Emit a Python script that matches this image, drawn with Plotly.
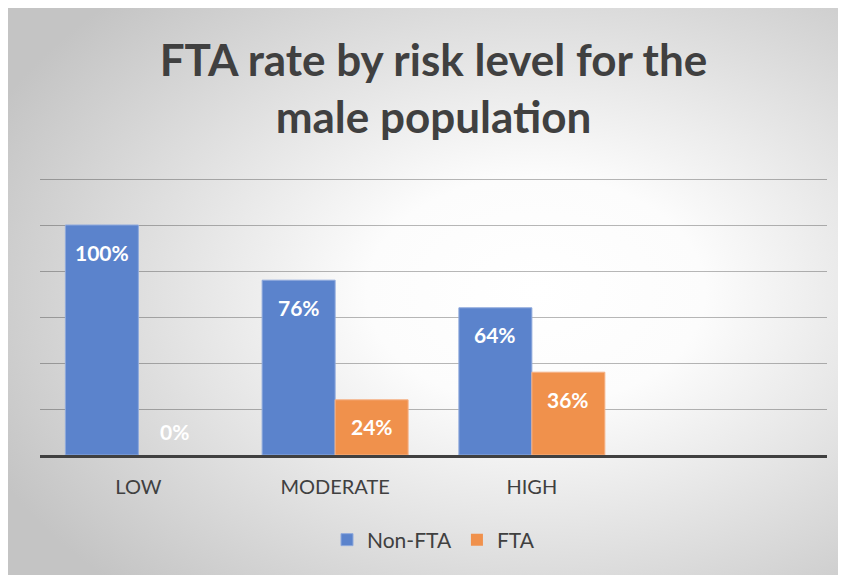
import base64
import plotly.graph_objects as go

categories = ["LOW", "MODERATE", "HIGH"]
non_fta = [1.00, 0.76, 0.64]
fta = [0.00, 0.24, 0.36]
series_names = ["Non-FTA", "FTA"]
title_text = "FTA rate by risk level for the<br>male population"

BLUE = "#5b83cc"
ORANGE = "#f0914c"
TXT = "#404040"
FONT = "Lato"

W, H = 838, 567
L, R, T, B = 32, 19, 169, 120
pw, ph = W - L - R, H - T - B
YMAX = 1.2 * ph / (ph - 2)

svg = (
    f'<svg xmlns="http://www.w3.org/2000/svg" width="{W}" height="{H}" preserveAspectRatio="none">'
    '<defs><radialGradient id="g" cx="63%" cy="50%" r="72%">'
    '<stop offset="0" stop-color="#ffffff"/><stop offset="0.28" stop-color="#fcfcfc"/>'
    '<stop offset="1" stop-color="#c4c4c4"/></radialGradient></defs>'
    f'<rect width="{W}" height="{H}" fill="url(#g)"/></svg>'
)
src = "data:image/svg+xml;base64," + base64.b64encode(svg.encode()).decode()

fig = go.Figure()
fig.add_trace(go.Bar(name=series_names[0], x=categories, y=non_fta,
                     marker=dict(color=BLUE, line=dict(color="#8fa9dc",
                                 width=[1 if v > 0 else 0 for v in non_fta]))))
fig.add_trace(go.Bar(name=series_names[1], x=categories, y=fta,
                     marker=dict(color=ORANGE, line=dict(color="#f5b388",
                                 width=[1 if v > 0 else 0 for v in fta]))))

annotations = []
for vals, shift in ((non_fta, -36.5), (fta, 36.5)):
    for c, v in zip(categories, vals):
        annotations.append(dict(
            x=c, y=v, xref="x", yref="y", text=f"{round(v * 100)}%",
            showarrow=False, xshift=shift, yshift=(-27 if v > 0 else 24),
            font=dict(family=FONT, size=21, color="white", weight="bold"),
            yanchor="middle", xanchor="center"))

fig.update_layout(
    width=W, height=H,
    margin=dict(l=L, r=R, t=T, b=B),
    paper_bgcolor="white", plot_bgcolor="rgba(0,0,0,0)",
    barmode="group", bargap=0.258, bargroupgap=0,
    title=dict(text=title_text, x=0.5, xref="paper", xanchor="center",
               y=1 - 68 / H, yanchor="middle",
               font=dict(family=FONT, size=44, color=TXT, weight="bold")),
    xaxis=dict(type="category", range=[-0.5, 3.5], showgrid=False,
               showline=True, linecolor="#404040", linewidth=3,
               ticks="outside", ticklen=12, tickcolor="rgba(0,0,0,0)",
               tickfont=dict(family=FONT, size=20, color=TXT), zeroline=False),
    yaxis=dict(range=[0, YMAX], tickvals=[0.2, 0.4, 0.6, 0.8, 1.0, 1.2],
               showticklabels=False,
               gridcolor="rgba(0,0,0,0.28)", gridwidth=1, zeroline=False,
               showline=False),
    legend=dict(orientation="h", x=0.5, xanchor="center", xref="paper",
                y=-(532 - 447) / ph, yanchor="middle",
                font=dict(family=FONT, size=21, color=TXT),
                bgcolor="rgba(0,0,0,0)", itemwidth=30),
    annotations=annotations,
    images=[dict(source=src, xref="paper", yref="paper",
                 x=-L / pw, y=(H - B) / ph,
                 sizex=W / pw, sizey=H / ph,
                 xanchor="left", yanchor="top", sizing="stretch", layer="below")],
)

fig.write_html("out.html")
